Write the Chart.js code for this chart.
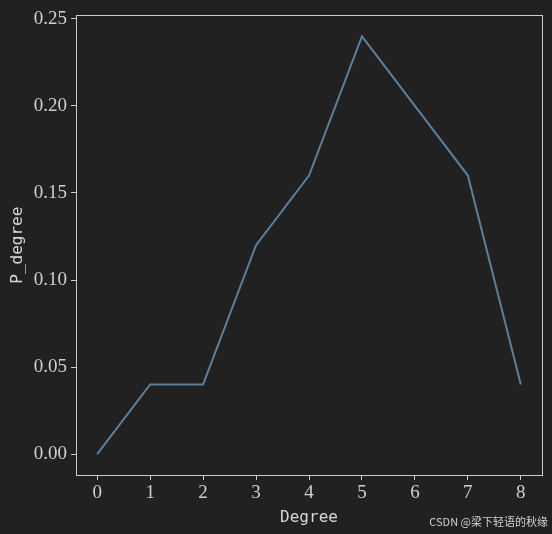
<!DOCTYPE html>
<html>
<head>
<meta charset="utf-8">
<script src="https://cdn.jsdelivr.net/npm/chart.js@4/dist/chart.umd.min.js"></script>
<style>
  html, body { margin: 0; padding: 0; background: #212121; }
  #wrap { position: relative; width: 552px; height: 534px; }
  #mark { position: absolute; right: 4px; bottom: 5px; color: #d0d0d0;
          font: 11px "Noto Sans CJK SC", "Noto Sans", sans-serif; }
</style>
</head>
<body>
<div id="wrap">
  <canvas id="wykres" width="552" height="534"></canvas>
  <div id="mark">CSDN @梁下轻语的秋缘</div>
</div>
<script>
const stopnie = [0, 1, 2, 3, 4, 5, 6, 7, 8];
const pStopnia = [0.00, 0.04, 0.04, 0.12, 0.16, 0.24, 0.20, 0.16, 0.04];
const tickiY = [0, 0.05, 0.10, 0.15, 0.20, 0.25];

const kolorOsi = '#cccccc';

// ramka wokol obszaru wykresu
const ramka = {
  id: 'ramka',
  afterDraw(chart) {
    const { ctx, chartArea: a } = chart;
    ctx.save();
    ctx.strokeStyle = kolorOsi;
    ctx.lineWidth = 1;
    ctx.strokeRect(Math.round(a.left) + 0.5, Math.round(a.top) + 0.5,
                   Math.round(a.right - a.left), Math.round(a.bottom - a.top));
    ctx.restore();
  }
};

const ctx = document.getElementById('wykres').getContext('2d');
new Chart(ctx, {
  type: 'line',
  data: {
    datasets: [{
      data: stopnie.map((s, i) => ({ x: s, y: pStopnia[i] })),
      borderColor: '#5b809e',
      borderWidth: 2,
      pointRadius: 0,
      fill: false,
      tension: 0
    }]
  },
  options: {
    responsive: false,
    animation: false,
    layout: { padding: { top: 14, right: 10, left: 0, bottom: 0 } },
    plugins: { legend: { display: false }, tooltip: { enabled: false } },
    scales: {
      x: {
        type: 'linear',
        min: -0.4,
        max: 8.4,
        afterBuildTicks: s => { s.ticks = stopnie.map(v => ({ value: v })); },
        afterFit: s => { s.height = 59; },
        grid: { drawOnChartArea: false, color: kolorOsi, tickLength: 5, tickWidth: 1 },
        border: { display: false },
        ticks: { color: '#d0d0d0', padding: 2, font: { family: '"Liberation Serif", serif', size: 19 },
                 callback: v => String(v) },
        title: { display: true, text: 'Degree', color: '#d8d8d8', padding: 7,
                 font: { family: '"DejaVu Sans Mono", monospace', size: 16 } }
      },
      y: {
        min: -0.012,
        max: 0.252,
        afterBuildTicks: s => { s.ticks = tickiY.map(v => ({ value: v })); },
        afterFit: s => { s.width = 76; },
        grid: { drawOnChartArea: false, color: kolorOsi, tickLength: 5, tickWidth: 1 },
        border: { display: false },
        ticks: { color: '#d0d0d0', padding: 4, font: { family: '"Liberation Serif", serif', size: 19 },
                 callback: v => Number(v).toFixed(2) },
        title: { display: true, text: 'P_degree', color: '#d8d8d8', padding: 8,
                 font: { family: '"DejaVu Sans Mono", monospace', size: 16 } }
      }
    }
  },
  plugins: [ramka]
});
</script>
</body>
</html>
